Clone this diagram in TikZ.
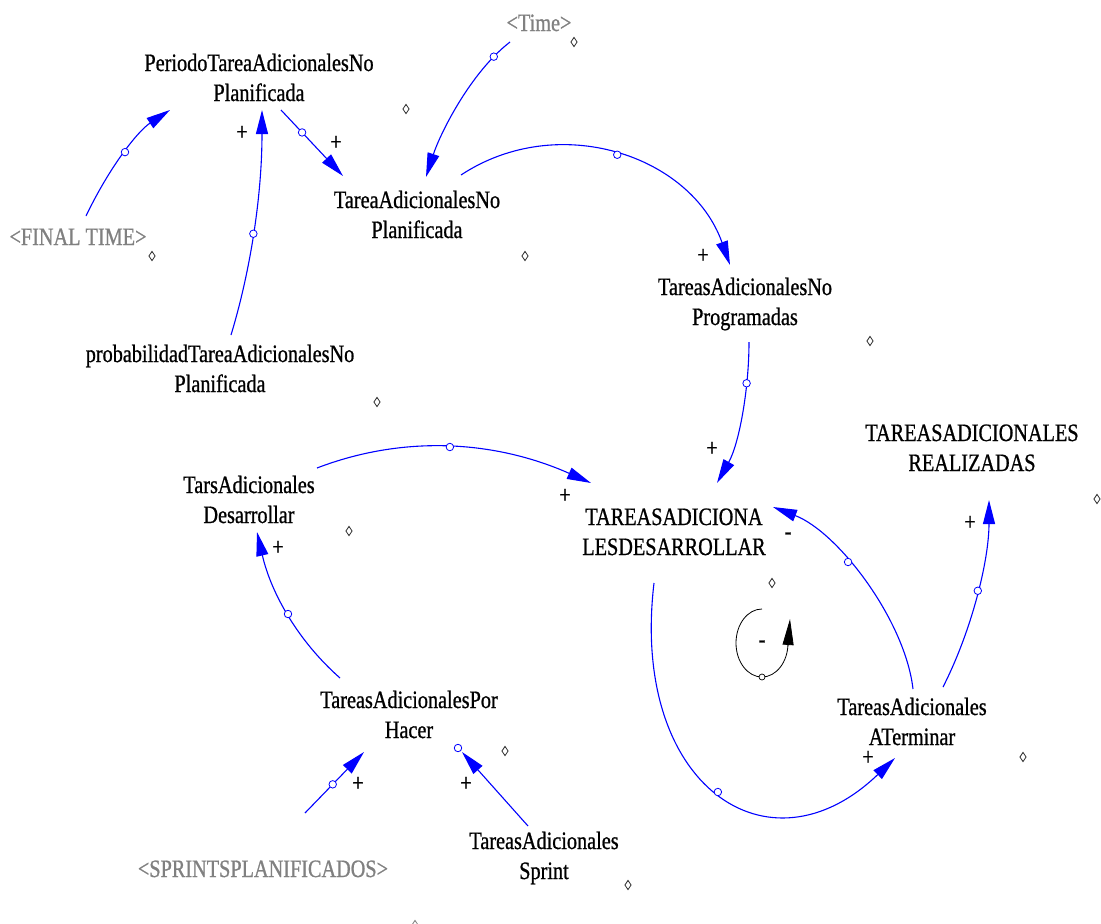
\documentclass[tikz,border=0pt]{standalone}
\usepackage{fontspec}
\setmainfont{Liberation Serif}[FakeStretch=0.81,FakeBold=0.8]
\usetikzlibrary{arrows.meta,calc,shapes.geometric}
\definecolor{linkblue}{RGB}{0,0,255}
\definecolor{shadowgray}{RGB}{128,128,128}
\definecolor{handlegray}{RGB}{40,40,40}

\begin{document}
\begin{tikzpicture}[x=1pt,y=-1pt,
  txt/.style={font=\fontsize{25}{30}\selectfont, inner sep=0pt, align=center},
  var/.style={txt, text=black},
  shadow/.style={txt, text=shadowgray},
  sgn/.style={font=\fontsize{25}{30}\selectfont, inner sep=0pt, text=black},
  link/.style={draw=linkblue, line width=1.1pt, -{Triangle[length=24pt,width=12pt]}},
  hnd/.style={circle, draw=linkblue, fill=white, line width=0.8pt, inner sep=0pt, minimum size=7.5pt},
  dmd/.style={diamond, draw=handlegray, fill=white, line width=0.8pt, inner sep=0pt, minimum width=6.5pt, minimum height=9.5pt}
]
\fill[white] (0,0) rectangle (1101,924);
\useasboundingbox (0,0) rectangle (1101,924);

% variables
\node[var]    (per)  at (259,80)  {PeriodoTareaAdicionalesNo\strut\\Planificada\strut};
\node[shadow] (time) at (539,25)  {<Time>\strut};
\node[var]    (tan)  at (417,217) {TareaAdicionalesNo\strut\\Planificada\strut};
\node[shadow] (fin)  at (78,239)  {<FINAL TIME>\strut};
\node[var]    (prob) at (220,371) {probabilidadTareaAdicionalesNo\strut\\Planificada\strut};
\node[var]    (tnp)  at (745,304) {TareasAdicionalesNo\strut\\Programadas\strut};
\node[var]    (real) at (972,450) {TAREASADICIONALES\strut\\REALIZADAS\strut};
\node[var]    (tars) at (249,502) {TarsAdicionales\strut\\Desarrollar\strut};
\node[var]    (tad)  at (674,534) {TAREASADICIONA\strut\\LESDESARROLLAR\strut};
\node[var]    (por)  at (409,717) {TareasAdicionalesPor\strut\\Hacer\strut};
\node[var]    (ater) at (912,724) {TareasAdicionales\strut\\ATerminar\strut};
\node[var]    (spr)  at (544,858) {TareasAdicionales\strut\\Sprint\strut};
\node[shadow] (sprp) at (263,871) {<SPRINTSPLANIFICADOS>\strut};

% variable handles
\node[dmd] (d1)  at (574,42)  {};
\node[dmd] (d2)  at (406,109) {};
\node[dmd] (d3)  at (152,256) {};
\node[dmd] (d4)  at (525,256) {};
\node[dmd] (d5)  at (870,341) {};
\node[dmd] (d6)  at (377,402) {};
\node[dmd] (d7)  at (1097,499) {};
\node[dmd] (d8)  at (349,531) {};
\node[dmd] (d9)  at (772,583) {};
\node[dmd] (d10) at (505,751) {};
\node[dmd] (d11) at (1023,757) {};
\node[dmd] (d12) at (628,885) {};
\node[dmd, draw=shadowgray] (d13) at (415,925) {};

% causal links
\draw[link] ($(fin)+(8,-23)$) .. controls (110,166) and (138,131) .. ($(per)+(-89,30)$)
  node[hnd, pos=0.5] (h1) {};
\draw[link] ($(prob)+(11,-36)$) .. controls (251,269) and (262,194) .. ($(per)+(3,30)$)
  node[hnd, pos=0.48] (h2) {};
\draw[link] ($(per)+(22,30)$) -- ($(tan)+(-74,-41)$)
  node[hnd, pos=0.34] (h3) {};
\draw[link] ($(time)+(-29,17)$) .. controls (470,73) and (440,134) .. ($(tan)+(9,-40)$)
  node[hnd, pos=0.14] (h4) {};
\draw[link] ($(tan)+(44,-42)$) .. controls (558,111) and (691,155) .. ($(tnp)+(-15,-39)$)
  node[hnd, pos=0.5] (h5) {};
\draw[link] ($(tnp)+(4,38)$) .. controls (749,390) and (739,444) .. ($(tad)+(43,-51)$)
  node[hnd, pos=0.28] (h6) {};
\draw[link] ($(tars)+(68,-34)$) .. controls (403,435) and (494,440) .. ($(tad)+(-83,-51)$)
  node[hnd, pos=0.5] (h7) {};
\draw[link] ($(por)+(-69,-39)$) .. controls (298,641) and (271,593) .. ($(tars)+(8,30)$)
  node[hnd, pos=0.5] (h8) {};
\draw[link] ($(sprp)+(42,-58)$) -- ($(por)+(-45,35)$)
  node[hnd, pos=0.47] (h9) {};
\draw[link] ($(spr)+(-16,-32)$) -- ($(por)+(53,35)$);
\node[hnd] (h10) at ($(por)+(49,31)$) {};
\draw[link] ($(tad)+(-20,49)$) .. controls (630,785) and (768,880) .. ($(ater)+(-17,34)$)
  node[hnd, pos=0.5] (h11) {};
\draw[link] ($(ater)+(1,-35)$) .. controls (905,620) and (838,532) .. ($(tad)+(99,-27)$)
  node[hnd, pos=0.6] (h12) {};
\draw[link] ($(ater)+(31,-37)$) .. controls (972,630) and (989,560) .. ($(real)+(17,50)$)
  node[hnd, pos=0.52] (h13) {};

% polarities
\node[sgn] (s1)  at (242,133) {+};
\node[sgn] (s2)  at (336,143) {+};
\node[sgn] (s3)  at (703,256) {+};
\node[sgn] (s4)  at (712,449) {+};
\node[sgn] (s5)  at (565,496) {+};
\node[sgn] (s6)  at (278,548) {+};
\node[sgn] (s7)  at (358,784) {+};
\node[sgn] (s8)  at (466,784) {+};
\node[sgn] (s9)  at (868,758) {+};
\node[sgn] (s10) at (788,536) {-};
\node[sgn] (s11) at (970,523) {+};

% balancing loop marker
\draw[black, line width=0.8pt] (762,609) arc[start angle=270, end angle=0, x radius=26, y radius=34];
\draw[black, line width=0.8pt, -{Triangle[length=26pt,width=11pt]}] (788,646) -- (790,619);
\node[circle, draw=black, fill=white, line width=0.7pt, inner sep=0pt, minimum size=6pt] (lh) at (762,677) {};
\node[sgn] (ls) at (762,644) {-};
\end{tikzpicture}
\end{document}
